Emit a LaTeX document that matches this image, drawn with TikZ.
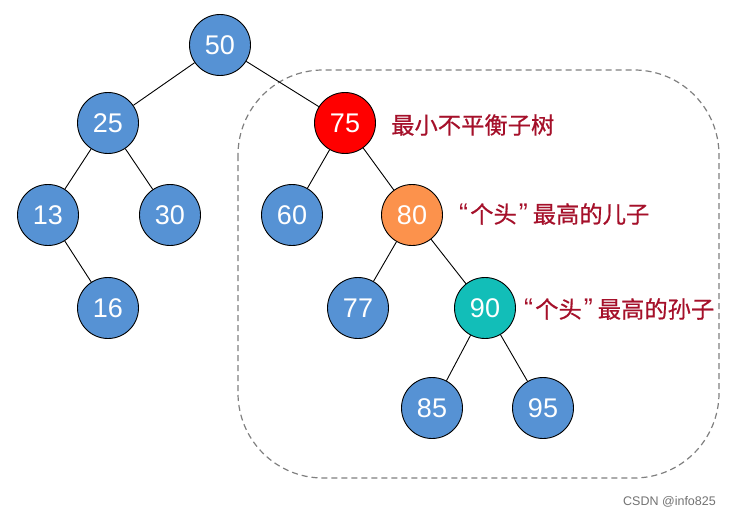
\documentclass[tikz,border=0pt]{standalone}
\usepackage{fontspec}
\setmainfont{Liberation Sans}
\newfontfamily\cjk[FakeBold=0.5]{Noto Sans CJK SC}
\newcommand{\myoq}{{\fontsize{27}{27}\rmfamily “}\hspace{2pt}}
\newcommand{\mycq}{\hspace{2pt}{\fontsize{27}{27}\rmfamily ”}\hspace{5pt}}
\definecolor{nodeblue}{RGB}{86,146,212}
\definecolor{nodered}{RGB}{255,0,0}
\definecolor{nodeorange}{RGB}{252,146,76}
\definecolor{nodeteal}{RGB}{18,190,184}
\definecolor{labred}{RGB}{165,16,42}
\definecolor{boxgray}{RGB}{128,128,128}
\begin{document}
\begin{tikzpicture}[x=1pt,y=-1pt,
  tnode/.style={circle,draw=black,line width=0.9pt,fill=nodeblue,minimum size=61pt,inner sep=0pt,text=white,font=\fontsize{27}{27}\selectfont},
  edge/.style={draw=black,line width=0.9pt},
  note/.style={anchor=west,text=labred,inner sep=0pt,font=\cjk\fontsize{23.3}{23.3}\selectfont}]
\useasboundingbox (0,0) rectangle (730,516);
\fill[white] (0,0) rectangle (730,516);
\draw[boxgray,dashed,line width=1.2pt,dash pattern=on 6pt off 4pt,rounded corners=85pt] (238,70) rectangle (719,478);
\node[tnode] (n50) at (220,45) {50};
\node[tnode] (n25) at (108,123) {25};
\node[tnode,fill=nodered] (n75) at (345,123) {75};
\node[tnode] (n13) at (48,215) {13};
\node[tnode] (n30) at (170,215) {30};
\node[tnode] (n60) at (292,215) {60};
\node[tnode,fill=nodeorange] (n80) at (412,215) {80};
\node[tnode] (n16) at (108,308) {16};
\node[tnode] (n77) at (358,308) {77};
\node[tnode,fill=nodeteal] (n90) at (485,308) {90};
\node[tnode] (n85) at (432,408) {85};
\node[tnode] (n95) at (543,408) {95};
\draw[edge] (n50) -- (n25);
\draw[edge] (n50) -- (n75);
\draw[edge] (n25) -- (n13);
\draw[edge] (n25) -- (n30);
\draw[edge] (n13) -- (n16);
\draw[edge] (n75) -- (n60);
\draw[edge] (n75) -- (n80);
\draw[edge] (n80) -- (n77);
\draw[edge] (n80) -- (n90);
\draw[edge] (n90) -- (n85);
\draw[edge] (n90) -- (n95);
\node[note] (l1) at (391,125) {最小不平衡子树};
\node[note] (l2) at (459,214) {\myoq 个头\mycq 最高的儿子};
\node[note] (l3) at (524,309) {\myoq 个头\mycq 最高的孙子};
\node[anchor=east,text=black!55,inner sep=0pt,font=\fontsize{12.5}{12.5}\selectfont] (csdn) at (716,502) {CSDN @info825};
\end{tikzpicture}
\end{document}
